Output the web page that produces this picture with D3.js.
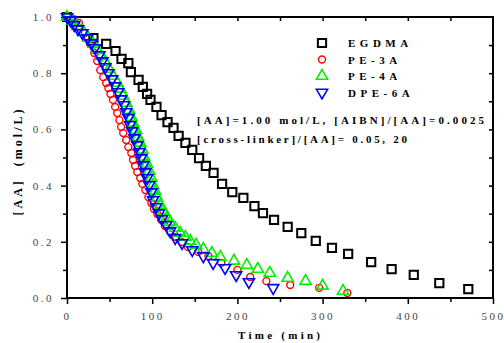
<!DOCTYPE html>
<html>
<head>
<meta charset="utf-8">
<script src="https://cdn.jsdelivr.net/npm/d3@7"></script>
<style>
  body { margin: 0; background: #fff; }
  svg { display: block; }
</style>
</head>
<body>
<div id="chart"></div>
<script>
// series: [time (min), [AA] (mol/L)]
const seriesNames = ["EGDMA", "PE-3A", "PE-4A", "DPE-6A"];

const egdma = [
  [0, 1.0], [31, 0.925], [46, 0.904], [57, 0.879], [64, 0.851], [72, 0.836], [75, 0.804],
  [84, 0.776], [89, 0.751], [94, 0.726], [98, 0.705], [105, 0.68], [111, 0.651],
  [118, 0.626], [125, 0.605], [131, 0.577], [139, 0.552], [147, 0.527], [155, 0.498],
  [163, 0.47], [172, 0.445], [182, 0.406], [194, 0.377], [207, 0.356], [220, 0.327],
  [230, 0.302], [243, 0.278], [259, 0.253], [275, 0.231], [292, 0.203], [311, 0.178],
  [330, 0.157], [357, 0.128], [381, 0.103], [407, 0.082], [437, 0.053], [471, 0.032]
];

const pe3a = [
  [0, 1.0], [7, 0.993], [14, 0.979], [21, 0.943], [27, 0.904], [32, 0.872], [35.5, 0.843],
  [39, 0.811], [42.5, 0.786], [46, 0.765], [48.5, 0.747], [51, 0.726], [54, 0.705],
  [56.5, 0.68], [59, 0.658], [61.5, 0.633], [63.5, 0.609], [66, 0.587], [69.5, 0.562],
  [72, 0.537], [75.5, 0.516], [77.5, 0.491], [80, 0.47], [82.5, 0.448], [86, 0.427],
  [88.5, 0.406], [92, 0.384], [95.5, 0.359], [99, 0.338], [102, 0.317], [106, 0.299],
  [110.5, 0.278], [115, 0.256], [121, 0.235], [128, 0.217], [135, 0.199], [142, 0.181],
  [154, 0.164], [166, 0.149], [181, 0.125], [200, 0.1], [215, 0.075], [234, 0.06],
  [262, 0.046], [296, 0.036], [329, 0.018]
];

const pe4a = [
  [0, 1.0], [6, 0.986], [12, 0.968], [19, 0.947], [25, 0.925], [31, 0.904], [35.5, 0.883],
  [40, 0.861], [45, 0.84], [49.5, 0.815], [54, 0.79], [59, 0.765], [62.5, 0.744],
  [66, 0.719], [69.5, 0.694], [73, 0.669], [75.5, 0.644], [77.5, 0.623], [81, 0.598],
  [83.5, 0.573], [86, 0.552], [88.5, 0.527], [90.5, 0.502], [94, 0.477], [96.5, 0.452],
  [99, 0.427], [101, 0.402], [103.5, 0.381], [106, 0.356], [109.5, 0.331], [113, 0.31],
  [117.5, 0.288], [121, 0.27], [127, 0.249], [133, 0.231], [139, 0.217], [144.5, 0.203],
  [151.5, 0.189], [160, 0.174], [170, 0.16], [180, 0.146], [196, 0.132], [211, 0.117],
  [224, 0.103], [238, 0.089], [259, 0.071], [280, 0.06], [300, 0.043], [324, 0.025]
];

const dpe6a = [
  [0, 1.0], [4, 0.989], [8.5, 0.972], [13, 0.957], [18, 0.943], [24, 0.925], [28.5, 0.907],
  [33, 0.89], [38, 0.865], [41.5, 0.843], [45, 0.822], [48.5, 0.801], [53, 0.779],
  [56.5, 0.754], [60, 0.733], [63.5, 0.708], [67, 0.687], [69.5, 0.662], [72, 0.641],
  [74, 0.616], [76.5, 0.594], [79, 0.569], [82.5, 0.544], [85, 0.52], [87, 0.498],
  [89.5, 0.473], [92, 0.448], [94, 0.427], [96.5, 0.402], [99, 0.377], [101, 0.349],
  [104.5, 0.324], [108, 0.302], [111.5, 0.281], [116.5, 0.26], [121, 0.238], [127, 0.214],
  [135, 0.196], [147, 0.171], [160, 0.149], [171.5, 0.125], [185.5, 0.107], [198.5, 0.082],
  [213.5, 0.057], [242, 0.036]
];

const xTicks = [0, 100, 200, 300, 400, 500];
const yTicks = [0.0, 0.2, 0.4, 0.6, 0.8, 1.0];
const noteLines = ["[AA]=1.00 mol/L, [AIBN]/[AA]=0.0025", "[cross-linker]/[AA]= 0.05, 20"];

const W = 504, H = 343;
const plot = { left: 67, right: 493, top: 17, bottom: 298 };
const serif = "'Liberation Serif', 'DejaVu Serif', serif";

const svg = d3.select("#chart").append("svg")
  .attr("width", W)
  .attr("height", H);

const x = d3.scaleLinear().domain([0, 500]).range([plot.left, plot.right]);
const y = d3.scaleLinear().domain([0, 1]).range([plot.bottom, plot.top]);

// minor + major ticks, left and bottom go outward
svg.append("g")
  .attr("transform", `translate(${plot.left},0)`)
  .call(d3.axisLeft(y).tickValues([0.1, 0.3, 0.5, 0.7, 0.9]).tickSize(4).tickFormat(""))
  .call(g => g.select(".domain").remove());

svg.append("g")
  .attr("transform", `translate(${plot.left},0)`)
  .call(d3.axisLeft(y).tickValues(yTicks).tickSize(6).tickPadding(7).tickFormat(d3.format(".1f")))
  .call(g => g.select(".domain").remove());

svg.append("g")
  .attr("transform", `translate(0,${plot.bottom})`)
  .call(d3.axisBottom(x).tickValues([50, 150, 250, 350, 450]).tickSize(4).tickFormat(""))
  .call(g => g.select(".domain").remove());

svg.append("g")
  .attr("transform", `translate(0,${plot.bottom})`)
  .call(d3.axisBottom(x).tickValues(xTicks).tickSize(6).tickPadding(8).tickFormat(d3.format("d")))
  .call(g => g.select(".domain").remove());

// top and right mirror, ticks inward
svg.append("g")
  .attr("transform", `translate(0,${plot.top})`)
  .call(d3.axisTop(x).tickValues(d3.range(50, 500, 50)).tickSize(-4).tickFormat(""))
  .call(g => g.select(".domain").remove());

svg.append("g")
  .attr("transform", `translate(${plot.right},0)`)
  .call(d3.axisRight(y).tickValues(d3.range(0.1, 1.0, 0.1)).tickSize(-4).tickFormat(""))
  .call(g => g.select(".domain").remove());

svg.selectAll(".tick line").attr("stroke", "#000").attr("stroke-width", 1.5);
svg.selectAll(".tick text")
  .attr("fill", "#444")
  .style("font-family", serif)
  .style("font-size", "11px")
  .style("letter-spacing", "2.5px");

svg.append("rect")
  .attr("x", plot.left).attr("y", plot.top)
  .attr("width", plot.right - plot.left).attr("height", plot.bottom - plot.top)
  .attr("fill", "none").attr("stroke", "#000").attr("stroke-width", 2);

// markers
const styles = [
  { data: egdma, type: d3.symbolSquare, size: 68, color: "#000", sw: 2, rot: 0 },
  { data: pe3a, type: d3.symbolCircle, size: 38, color: "#ff0000", sw: 1.4, rot: 0 },
  { data: pe4a, type: d3.symbolTriangle, size: 54, color: "#00ee00", sw: 1.6, rot: 0 },
  { data: dpe6a, type: d3.symbolTriangle, size: 54, color: "#0000ff", sw: 1.6, rot: 180 }
];

styles.forEach(s => {
  const sym = d3.symbol().type(s.type).size(s.size);
  svg.append("g").selectAll("path")
    .data(s.data)
    .join("path")
    .attr("d", sym)
    .attr("transform", d => `translate(${x(d[0])},${y(d[1])}) rotate(${s.rot})`)
    .attr("fill", "none")
    .attr("stroke", s.color)
    .attr("stroke-width", s.sw);
});

// legend
const legend = svg.append("g");
styles.forEach((s, i) => {
  const ly = 43 + i * 16.5;
  legend.append("path")
    .attr("d", d3.symbol().type(s.type).size(s.size)())
    .attr("transform", `translate(322,${ly}) rotate(${s.rot})`)
    .attr("fill", "none")
    .attr("stroke", s.color)
    .attr("stroke-width", s.sw);
  legend.append("text")
    .attr("x", 348).attr("y", ly + 4)
    .style("font-family", serif)
    .style("font-weight", "bold")
    .style("font-size", "11px")
    .style("letter-spacing", "4.5px")
    .text(seriesNames[i]);
});

// notes
noteLines.forEach((t, i) => {
  svg.append("text")
    .attr("x", 197).attr("y", 124 + i * 19)
    .attr("textLength", i === 0 ? 287 : 210)
    .attr("lengthAdjust", "spacing")
    .style("font-family", serif)
    .style("font-weight", "bold")
    .style("font-size", "11px")
    .text(t);
});

// axis titles
svg.append("text")
  .attr("x", 238).attr("y", 339)
  .attr("textLength", 82)
  .attr("lengthAdjust", "spacing")
  .style("font-family", serif)
  .style("font-weight", "bold")
  .style("font-size", "11px")
  .text("Time (min)");

svg.append("text")
  .attr("transform", "translate(22,161) rotate(-90)")
  .attr("text-anchor", "middle")
  .style("font-family", serif)
  .style("font-weight", "bold")
  .style("font-size", "12px")
  .style("letter-spacing", "3px")
  .style("white-space", "pre")
  .text("[AA]  (mol/L)");
</script>
</body>
</html>
